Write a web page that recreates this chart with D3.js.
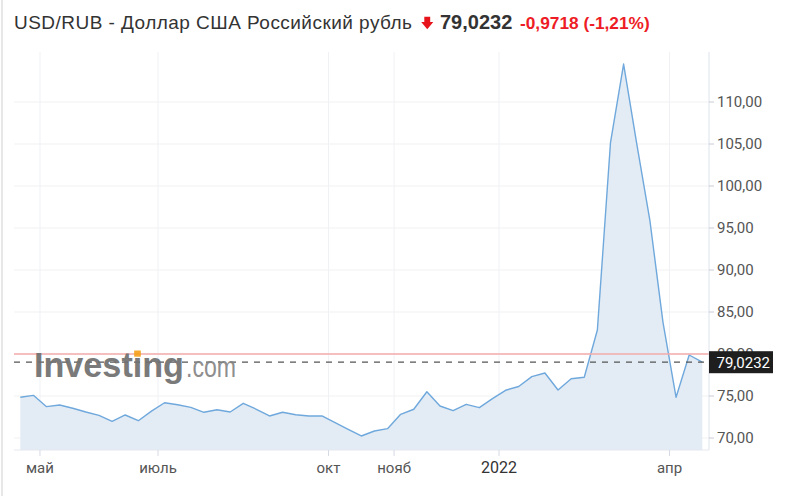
<!DOCTYPE html>
<html>
<head>
<meta charset="utf-8">
<script src="https://cdn.jsdelivr.net/npm/d3@7"></script>
<style>
  html, body { margin: 0; padding: 0; background: #fff; }
  svg { display: block; }
</style>
</head>
<body>
<svg id="chart" width="798" height="496"></svg>
<script>
// ---- data ----
const title = "USD/RUB - Доллар США Российский рубль";
const lastPrice = 79.0232;
const change = "-0,9718";
const changePct = "(-1,21%)";
const prevClose = 79.995;

const weeks = [
  "2021-04-18","2021-04-25","2021-05-02","2021-05-09","2021-05-16","2021-05-23","2021-05-30",
  "2021-06-06","2021-06-13","2021-06-20","2021-06-27","2021-07-04","2021-07-11","2021-07-18",
  "2021-07-25","2021-08-01","2021-08-08","2021-08-15","2021-08-22","2021-08-29","2021-09-05",
  "2021-09-12","2021-09-19","2021-09-26","2021-10-03","2021-10-10","2021-10-17","2021-10-24",
  "2021-10-31","2021-11-07","2021-11-14","2021-11-21","2021-11-28","2021-12-05","2021-12-12",
  "2021-12-19","2021-12-26","2022-01-02","2022-01-09","2022-01-16","2022-01-23","2022-01-30",
  "2022-02-06","2022-02-13","2022-02-20","2022-02-27","2022-03-06","2022-03-13","2022-03-20",
  "2022-03-27","2022-04-03","2022-04-10","2022-04-17"
];
const closes = [
  74.85, 75.08, 73.73, 73.93, 73.54, 73.10, 72.70, 71.99, 72.74, 72.06,
  73.20, 74.20, 73.96, 73.65, 73.06, 73.37, 73.10, 74.13, 73.42, 72.62,
  73.06, 72.77, 72.62, 72.62, 71.82, 71.04, 70.24, 70.83, 71.11, 72.82,
  73.42, 75.51, 73.81, 73.25, 74.01, 73.61, 74.68, 75.68, 76.13, 77.30,
  77.74, 75.71, 77.06, 77.23, 82.86, 105.15, 114.52, 105.05, 95.95, 83.80,
  74.85, 79.88, 79.0232
];
const yTicks = [70, 75, 80, 85, 90, 95, 100, 105, 110];
const xTickMonths = ["2021-05", "2021-07", "2021-10", "2021-11", "2022-01", "2022-04"];
const xTickLabels = ["май", "июль", "окт", "нояб", "2022", "апр"];

// ---- layout ----
const svg = d3.select("#chart");
const plotLeft = 14, plotRight = 709, plotTop = 52, plotBottom = 450;
const x = d3.scaleLinear().domain([0, weeks.length - 1]).range([20.3, 702.3]);
const y = d3.scaleLinear().domain([70, 110]).range([438, 102]);
const fmt2 = v => d3.format(".2f")(v).replace(".", ",");
const fmt4 = v => d3.format(".4f")(v).replace(".", ",");

svg.append("rect").attr("width", 798).attr("height", 496).attr("fill", "#fff");
// left border
svg.append("line").attr("x1", 2).attr("x2", 2).attr("y1", 0).attr("y2", 496)
  .attr("stroke", "#cfcfcf").attr("stroke-width", 1);

// header
const header = svg.append("g").attr("font-family", "'Liberation Sans', Arial, sans-serif");
header.append("text").attr("x", 14).attr("y", 29).attr("font-size", 19).attr("fill", "#333")
  .attr("textLength", 398).attr("lengthAdjust", "spacing")
  .text(title);
header.append("path")
  .attr("d", "M424.3,16.7 H430.2 V22 H433.3 L427.25,29.3 L421.2,22 H424.3 Z")
  .attr("fill", "#e8141b");
header.append("text").attr("x", 440).attr("y", 29).attr("font-size", 20).attr("font-weight", "bold")
  .attr("fill", "#333").text(fmt4(lastPrice));
header.append("text").attr("x", 520).attr("y", 28.5).attr("font-size", 17.3).attr("font-weight", "bold")
  .attr("fill", "#ee1c25").text(change + " " + changePct);

// ticks positions for months
const xTicks = xTickMonths.map((m, i) => {
  const idx = weeks.findIndex(d => d.startsWith(m));
  return { label: xTickLabels[i], pos: x(idx - 0.5), year: /^\d+$/.test(xTickLabels[i]) };
});

// grid
const grid = svg.append("g");
grid.selectAll("line.h").data(yTicks).join("line")
  .attr("x1", plotLeft).attr("x2", plotRight)
  .attr("y1", d => y(d)).attr("y2", d => y(d))
  .attr("stroke", "#f1f1f3").attr("stroke-width", 1);
grid.selectAll("line.v").data(xTicks).join("line")
  .attr("x1", d => d.pos).attr("x2", d => d.pos)
  .attr("y1", plotTop).attr("y2", plotBottom)
  .attr("stroke", "#f0f1f5").attr("stroke-width", 1);

// area + line
const pts = closes.map((v, i) => [i, v]);
svg.append("path").datum(pts)
  .attr("d", d3.area().x(d => x(d[0])).y0(plotBottom).y1(d => y(d[1])))
  .attr("fill", "#e3ecf4");
svg.append("path").datum(pts)
  .attr("d", d3.line().x(d => x(d[0])).y(d => y(d[1])))
  .attr("fill", "none").attr("stroke", "#6fa8dc").attr("stroke-width", 1.4)
  .attr("stroke-linejoin", "round");

// previous close & last price lines
svg.append("line").attr("x1", plotLeft).attr("x2", plotRight)
  .attr("y1", y(prevClose)).attr("y2", y(prevClose))
  .attr("stroke", "#f5abab").attr("stroke-width", 1.5);
svg.append("line").attr("x1", plotLeft).attr("x2", plotRight)
  .attr("y1", y(lastPrice)).attr("y2", y(lastPrice))
  .attr("stroke", "#555").attr("stroke-width", 1.3).attr("stroke-dasharray", "6,6");

// watermark
const wm = svg.append("g").attr("font-family", "'Liberation Sans', Arial, sans-serif").attr("opacity", 0.92);
const inv = wm.append("text").attr("x", 34).attr("y", 377).attr("font-size", 35).attr("font-weight", "bold")
  .attr("fill", "#6f6f6f").attr("textLength", 150).attr("lengthAdjust", "spacingAndGlyphs").text("Investing");
wm.append("text").attr("x", 186).attr("y", 377).attr("font-size", 30)
  .attr("fill", "#858585").attr("textLength", 50).attr("lengthAdjust", "spacingAndGlyphs").text(".com");
const ext = inv.node().getExtentOfChar(6);
wm.append("rect").attr("x", ext.x + ext.width / 2 - 3.3).attr("y", 350.5).attr("width", 6.6).attr("height", 6.2)
  .attr("fill", "#f6a21d");

// axes lines
svg.append("line").attr("x1", plotRight).attr("x2", plotRight).attr("y1", plotTop).attr("y2", plotBottom)
  .attr("stroke", "#dde2ec");
svg.append("line").attr("x1", plotLeft).attr("x2", plotRight).attr("y1", plotBottom).attr("y2", plotBottom)
  .attr("stroke", "#e4e8ef");

// y axis ticks & labels
const ya = svg.append("g").attr("font-family", "Roboto, 'Liberation Sans', sans-serif").attr("font-size", 15);
ya.selectAll("line").data(yTicks).join("line")
  .attr("x1", plotRight).attr("x2", plotRight + 5).attr("y1", d => y(d)).attr("y2", d => y(d))
  .attr("stroke", "#c8ccd6");
ya.selectAll("text").data(yTicks).join("text")
  .attr("x", 717).attr("y", d => y(d)).attr("dy", "0.35em").attr("fill", "#555")
  .text(d => fmt2(d));

// x axis ticks & labels
const xa = svg.append("g").attr("font-family", "Roboto, 'Liberation Sans', sans-serif");
xa.selectAll("line").data(xTicks).join("line")
  .attr("x1", d => d.pos).attr("x2", d => d.pos).attr("y1", plotBottom).attr("y2", plotBottom + 6)
  .attr("stroke", "#d5dae4");
xa.selectAll("text").data(xTicks).join("text")
  .attr("x", d => d.pos).attr("y", 472.5).attr("text-anchor", "middle")
  .attr("font-size", d => d.year ? 16 : 15)
  .attr("fill", d => d.year ? "#333" : "#555")
  .text(d => d.label);

// price tag
const py = y(lastPrice);
svg.append("rect").attr("x", plotRight).attr("y", py - 11).attr("width", 64).attr("height", 22)
  .attr("fill", "#1e1e1e");
svg.append("text").attr("x", 716.5).attr("y", py).attr("dy", "0.36em")
  .attr("font-family", "Roboto, 'Liberation Sans', sans-serif").attr("font-size", 15)
  .attr("fill", "#fff").text(fmt4(lastPrice));
</script>
</body>
</html>
